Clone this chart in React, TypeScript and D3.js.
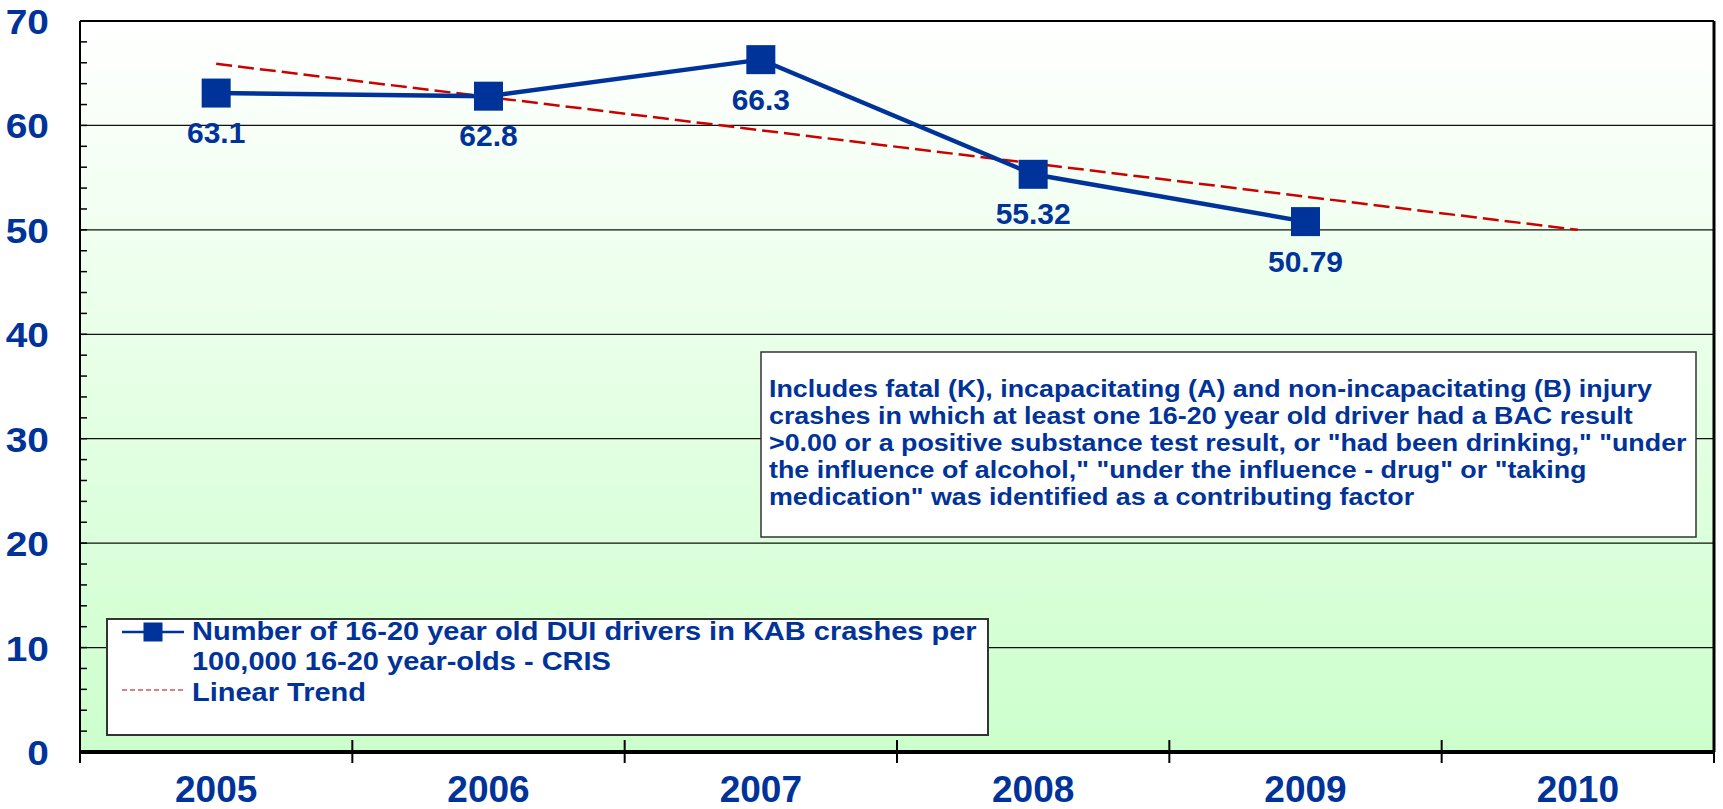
import React from "react";
import * as d3 from "d3";

const years = ["2005", "2006", "2007", "2008", "2009", "2010"];
const seriesYears = ["2005", "2006", "2007", "2008", "2009"];
const seriesValues = [63.1, 62.8, 66.3, 55.32, 50.79];
const seriesLabels = ["63.1", "62.8", "66.3", "55.32", "50.79"];
const trendYears = ["2005", "2010"];
const trendValues = [65.9, 50.0];
const yTicks = [0, 10, 20, 30, 40, 50, 60, 70];
const yMinorTicks = d3.range(0, 70, 2);
const legendLines = [
  "Number of 16-20 year old DUI drivers in KAB crashes per",
  "100,000 16-20 year-olds - CRIS",
  "Linear Trend",
];
const noteLines = [
  "Includes fatal (K), incapacitating (A) and non-incapacitating (B) injury",
  "crashes in which at least one 16-20 year old driver had a BAC result",
  ">0.00 or a positive substance test result, or \"had been drinking,\" \"under",
  "the influence of alcohol,\" \"under the influence - drug\" or \"taking",
  "medication\" was identified as a contributing factor",
];

const W = 1723;
const H = 809;
const left = 80;
const right = 1714;
const top = 21;
const bottom = 752;
const BLUE = "#003399";
const RED = "#cc0000";
const FONT = "'Liberation Sans', Arial, sans-serif";

export default function App() {
  const x = d3.scaleBand<string>().domain(years).range([left, right]).padding(0);
  const y = d3.scaleLinear().domain([0, 70]).range([bottom, top]);
  const cx = (yr: string) => (x(yr) as number) + x.bandwidth() / 2;

  const lineGen = d3
    .line<number>()
    .x((_, i) => cx(seriesYears[i]))
    .y((d) => y(d));
  const trendGen = d3
    .line<number>()
    .x((_, i) => cx(trendYears[i]))
    .y((d) => y(d));

  const boundaries = years.map((yr) => x(yr) as number).concat([right]);
  const ms = 29;

  return (
    <div style={{ position: "absolute", left: 0, top: 0 }}>
      <svg width={W} height={H} style={{ display: "block", background: "#fff" }}>
        <defs>
          <linearGradient id="bg" x1="0" y1="0" x2="0" y2="1">
            <stop offset="0%" stopColor="#ffffff" />
            <stop offset="100%" stopColor="#ccffcc" />
          </linearGradient>
        </defs>
        <rect x={left} y={top} width={right - left} height={bottom - top} fill="url(#bg)" />

        {/* gridlines */}
        {yTicks
          .filter((t) => t > 0 && t < 70)
          .map((t) => (
            <line key={"g" + t} x1={left} x2={right} y1={y(t)} y2={y(t)} stroke="#111" strokeWidth={1.2} />
          ))}

        {/* minor ticks left */}
        {yMinorTicks.map((t) => (
          <line key={"m" + t} x1={left} x2={left + 7} y1={y(t)} y2={y(t)} stroke="#000" strokeWidth={1.5} />
        ))}

        {/* borders */}
        <line x1={left} x2={right} y1={top} y2={top} stroke="#000" strokeWidth={2} />
        <line x1={right} x2={right} y1={top} y2={bottom} stroke="#000" strokeWidth={3} />
        <line x1={left} x2={left} y1={top} y2={bottom + 2} stroke="#000" strokeWidth={2} />

        {/* x ticks */}
        {boundaries.map((b, i) => (
          <line key={"xt" + i} x1={b} x2={b} y1={bottom - 12} y2={bottom + 11} stroke="#000" strokeWidth={2} />
        ))}
        <line x1={left - 1} x2={right + 1} y1={bottom} y2={bottom} stroke="#000" strokeWidth={4} />

        {/* y labels */}
        {yTicks.map((t) => (
          <g key={"yl" + t} transform={`translate(49, ${y(t)}) scale(1.08, 1)`}>
            <text
              x={0}
              y={0}
              dy="0.36em"
              textAnchor="end"
              fontFamily={FONT}
              fontWeight="bold"
              fontSize={36}
              fill={BLUE}
            >
              {t}
            </text>
          </g>
        ))}

        {/* x labels */}
        {years.map((yr) => (
          <text
            key={"xl" + yr}
            x={cx(yr)}
            y={802}
            textAnchor="middle"
            fontFamily={FONT}
            fontWeight="bold"
            fontSize={37}
            fill={BLUE}
          >
            {yr}
          </text>
        ))}

        {/* annotation box */}
        <rect x={761} y={352} width={1696 - 761} height={537 - 352} fill="#fff" stroke="#333" strokeWidth={1.5} />
        {noteLines.map((ln, i) => (
          <g key={"n" + i} transform={`translate(769, ${397 + i * 27}) scale(1.11, 1)`}>
            <text x={0} y={0} fontFamily={FONT} fontWeight="bold" fontSize={24.2} fill={BLUE}>
              {ln}
            </text>
          </g>
        ))}

        {/* legend box */}
        <rect x={107} y={619} width={988 - 107} height={735 - 619} fill="#fff" stroke="#333" strokeWidth={2} />
        <line x1={122} x2={184} y1={632} y2={632} stroke={BLUE} strokeWidth={2.5} />
        <rect x={153 - 9.5} y={632 - 9.5} width={19} height={19} fill={BLUE} />
        <line x1={122} x2={184} y1={690} y2={690} stroke={RED} strokeWidth={1.2} strokeDasharray="5,3" />
        {legendLines.map((ln, i) => (
          <g key={"l" + i} transform={`translate(192, ${[640, 670, 701][i]}) scale(1.16, 1)`}>
            <text x={0} y={0} fontFamily={FONT} fontWeight="bold" fontSize={25} fill={BLUE}>
              {ln}
            </text>
          </g>
        ))}

        {/* trend */}
        <path d={trendGen(trendValues) || ""} fill="none" stroke={RED} strokeWidth={2.5} strokeDasharray="16,6" />

        {/* series */}
        <path d={lineGen(seriesValues) || ""} fill="none" stroke={BLUE} strokeWidth={4.5} strokeLinejoin="round" />
        {seriesValues.map((v, i) => (
          <rect
            key={"p" + i}
            x={cx(seriesYears[i]) - ms / 2}
            y={y(v) - ms / 2}
            width={ms}
            height={ms}
            fill={BLUE}
          />
        ))}
        {seriesValues.map((v, i) => (
          <text
            key={"dl" + i}
            x={cx(seriesYears[i])}
            y={y(v) + 50}
            textAnchor="middle"
            fontFamily={FONT}
            fontWeight="bold"
            fontSize={30}
            fill={BLUE}
          >
            {seriesLabels[i]}
          </text>
        ))}
      </svg>
    </div>
  );
}
